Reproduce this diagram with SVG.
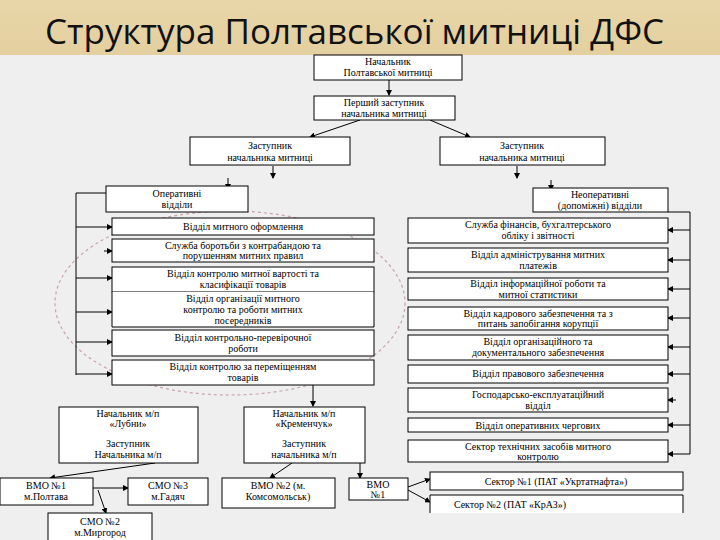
<svg xmlns="http://www.w3.org/2000/svg" width="720" height="540" viewBox="0 0 720 540">
<defs>
<marker id="a" markerWidth="6" markerHeight="6" refX="5" refY="3" orient="auto" markerUnits="userSpaceOnUse"><path d="M0,0 L6,3 L0,6 z" fill="#000"/></marker>
<linearGradient id="bg" x1="0" y1="0" x2="0" y2="1"><stop offset="0" stop-color="#e9d6a8"/><stop offset="1" stop-color="#e3cf9f"/></linearGradient>
</defs>
<style>
.b{fill:#fff;stroke:#000;stroke-width:1}
.t{font-family:'Liberation Serif','DejaVu Serif','Times New Roman',serif;font-size:10px;fill:#000;text-anchor:middle}
.c line,.c path,.c polyline{stroke:#000;stroke-width:1;fill:none}
.ar{marker-end:url(#a)}
</style>
<rect width="720" height="540" fill="#efefef"/>
<rect width="720" height="55" fill="url(#bg)"/>
<text x="45" y="44" font-family="'Open Sans',sans-serif" font-size="35" fill="#111">Структура Полтавської митниці ДФС</text>
<ellipse cx="230" cy="303" rx="175" ry="92" fill="none" stroke="#c7a3a8" stroke-width="1.2" stroke-dasharray="3,3"/>
<g class="c" id="connectors">
<line class="ar" x1="389" y1="80" x2="389" y2="95"/>
<line class="ar" x1="360" y1="120" x2="310" y2="137"/>
<line class="ar" x1="430" y1="120" x2="470" y2="137"/>
<line class="ar" x1="273" y1="166" x2="273" y2="178"/>
<line class="ar" x1="228" y1="178" x2="228" y2="189"/>
<line class="ar" x1="517" y1="166" x2="517" y2="178"/>
<line class="ar" x1="551" y1="180" x2="551" y2="190"/>
<line x1="76" y1="193" x2="76" y2="375"/>
<line x1="76" y1="193" x2="106" y2="193"/>
<line class="ar" x1="76" y1="227" x2="112" y2="227"/>
<line class="ar" x1="104" y1="251" x2="112" y2="251"/>
<line class="ar" x1="76" y1="278" x2="112" y2="278"/>
<line class="ar" x1="76" y1="312" x2="112" y2="312"/>
<line class="ar" x1="76" y1="342" x2="112" y2="342"/>
<line class="ar" x1="76" y1="374" x2="112" y2="374"/>
<line x1="690" y1="212" x2="690" y2="454"/>
<line x1="668" y1="212" x2="690" y2="212"/>
<line class="ar" x1="690" y1="230" x2="668" y2="230"/>
<line class="ar" x1="690" y1="260" x2="668" y2="260"/>
<line class="ar" x1="690" y1="289" x2="668" y2="289"/>
<line class="ar" x1="690" y1="318" x2="668" y2="318"/>
<line class="ar" x1="690" y1="347" x2="668" y2="347"/>
<line class="ar" x1="690" y1="374" x2="668" y2="374"/>
<line class="ar" x1="676" y1="400" x2="668" y2="400"/>
<line class="ar" x1="690" y1="425" x2="668" y2="425"/>
<line class="ar" x1="690" y1="454" x2="668" y2="454"/>
<line class="ar" x1="313" y1="385" x2="313" y2="406"/>
<line class="ar" x1="128" y1="428" x2="128" y2="436"/>
<line class="ar" x1="313" y1="428" x2="313" y2="436"/>
<line class="ar" x1="155" y1="463" x2="50" y2="478"/>
<line class="ar" x1="93" y1="488" x2="128" y2="488"/>
<line class="ar" x1="98" y1="490" x2="106" y2="513"/>
<line class="ar" x1="292" y1="463" x2="270" y2="478"/>
<line class="ar" x1="360" y1="463" x2="360" y2="478" stroke-width="1.5"/>
<line class="ar" x1="408" y1="487" x2="430" y2="479"/>
<line class="ar" x1="408" y1="490" x2="430" y2="502"/>
</g>
<g id="n1"><rect class="b" x="314" y="55" width="148" height="25"/><text class="t" x="388" y="65">Начальник</text><text class="t" x="388" y="76">Полтавської митниці</text></g>
<g id="n2"><rect class="b" x="314" y="96" width="141" height="24"/><text class="t" x="384" y="106">Перший заступник</text><text class="t" x="384" y="117">начальника митниці</text></g>
<g id="n3"><rect class="b" x="190" y="137" width="160" height="28"/><text class="t" x="270" y="149">Заступник</text><text class="t" x="270" y="161">начальника митниці</text></g>
<g id="n4"><rect class="b" x="440" y="137" width="165" height="28"/><text class="t" x="522" y="149">Заступник</text><text class="t" x="522" y="161">начальника митниці</text></g>
<g id="op"><rect class="b" x="106" y="186" width="142" height="26"/><text class="t" x="177" y="197">Оперативні</text><text class="t" x="177" y="208">відділи</text></g>
<g id="nop"><rect class="b" x="533" y="188" width="135" height="24"/><text class="t" x="600" y="198">Неоперативні</text><text class="t" x="600" y="209">(допоміжні) відділи</text></g>
<g id="l1"><rect class="b" x="112" y="218" width="262" height="17"/><text class="t" x="243" y="230">Відділ митного оформлення</text></g>
<g id="l2"><rect class="b" x="112" y="239" width="262" height="23"/><text class="t" x="243" y="249">Служба боротьби з контрабандою та</text><text class="t" x="243" y="259">порушенням митних правил</text></g>
<g id="l3"><rect class="b" x="112" y="267" width="262" height="25"/><text class="t" x="243" y="277">Відділ контролю митної вартості та</text><text class="t" x="243" y="288">класифікації товарів</text></g>
<g id="l4"><path class="b" d="M112,292 V327 H374 V292"/><text class="t" x="243" y="302">Відділ організації митного</text><text class="t" x="243" y="313">контролю та роботи митних</text><text class="t" x="243" y="324">посередників</text></g>
<g id="l5"><rect class="b" x="112" y="330" width="262" height="26"/><text class="t" x="243" y="341">Відділ контрольно-перевірочної</text><text class="t" x="243" y="352">роботи</text></g>
<g id="l6"><rect class="b" x="112" y="360" width="262" height="25"/><text class="t" x="243" y="370">Відділ контролю за переміщенням</text><text class="t" x="243" y="381">товарів</text></g>
<g id="r1"><rect class="b" x="408" y="218" width="260" height="25"/><text class="t" x="538" y="228">Служба фінансів, бухгалтерського</text><text class="t" x="538" y="239">обліку і звітності</text></g>
<g id="r2"><rect class="b" x="408" y="248" width="260" height="24"/><text class="t" x="538" y="258">Відділ адміністрування митних</text><text class="t" x="538" y="269">платежів</text></g>
<g id="r3"><rect class="b" x="408" y="278" width="260" height="22"/><text class="t" x="538" y="287">Відділ інформаційної роботи та</text><text class="t" x="538" y="298">митної статистики</text></g>
<g id="r4"><rect class="b" x="408" y="307" width="260" height="23"/><text class="t" x="538" y="317">Відділ кадрового забезпечення та з</text><text class="t" x="538" y="327">питань запобігання корупції</text></g>
<g id="r5"><rect class="b" x="408" y="335" width="260" height="25"/><text class="t" x="538" y="345">Відділ організаційного та</text><text class="t" x="538" y="356">документального забезпечення</text></g>
<g id="r6"><rect class="b" x="408" y="365" width="260" height="18"/><text class="t" x="538" y="377">Відділ правового забезпечення</text></g>
<g id="r7"><rect class="b" x="408" y="388" width="260" height="24"/><text class="t" x="538" y="398">Господарсько-експлуатаційний</text><text class="t" x="538" y="409">відділ</text></g>
<g id="r8"><rect class="b" x="408" y="418" width="260" height="14"/><text class="t" x="538" y="429">Відділ оперативних чергових</text></g>
<g id="r9"><rect class="b" x="408" y="440" width="260" height="22"/><text class="t" x="538" y="450">Сектор технічних засобів митного</text><text class="t" x="538" y="460">контролю</text></g>
<g id="lub"><rect class="b" x="59" y="407" width="139" height="56"/><text class="t" x="128" y="417">Начальник м/п</text><text class="t" x="128" y="427">«Лубни»</text><text class="t" x="128" y="447">Заступник</text><text class="t" x="128" y="458">Начальника м/п</text></g>
<g id="kre"><rect class="b" x="244" y="407" width="121" height="56"/><text class="t" x="304" y="417">Начальник м/п</text><text class="t" x="304" y="427">«Кременчук»</text><text class="t" x="304" y="447">Заступник</text><text class="t" x="304" y="458">начальника м/п</text></g>
<g id="vmo1a"><rect class="b" x="0" y="478" width="93" height="27"/><text class="t" x="46" y="489">ВМО №1</text><text class="t" x="46" y="500">м.Полтава</text></g>
<g id="smo3"><rect class="b" x="128" y="478" width="80" height="27"/><text class="t" x="168" y="489">СМО №3</text><text class="t" x="168" y="500">м.Гадяч</text></g>
<g id="smo2"><rect class="b" x="48" y="513" width="104" height="30"/><text class="t" x="100" y="525">СМО №2</text><text class="t" x="100" y="536">м.Миргород</text></g>
<g id="vmo2"><rect class="b" x="222" y="478" width="113" height="30"/><text class="t" x="278" y="489">ВМО №2 (м.</text><text class="t" x="278" y="500">Комсомольськ)</text></g>
<g id="vmo1b"><rect class="b" x="349" y="478" width="59" height="22"/><text class="t" x="378" y="488">ВМО</text><text class="t" x="378" y="498">№1</text></g>
<g id="s1"><rect class="b" x="430" y="472" width="253" height="18"/><text class="t" x="556" y="485">Сектор №1 (ПАТ «Укртатнафта»)</text></g>
<g id="s2"><path class="b" d="M430,513 V495 H683 V513"/><text class="t" x="510" y="508">Сектор №2 (ПАТ «КрАЗ»)</text></g>
</svg>
